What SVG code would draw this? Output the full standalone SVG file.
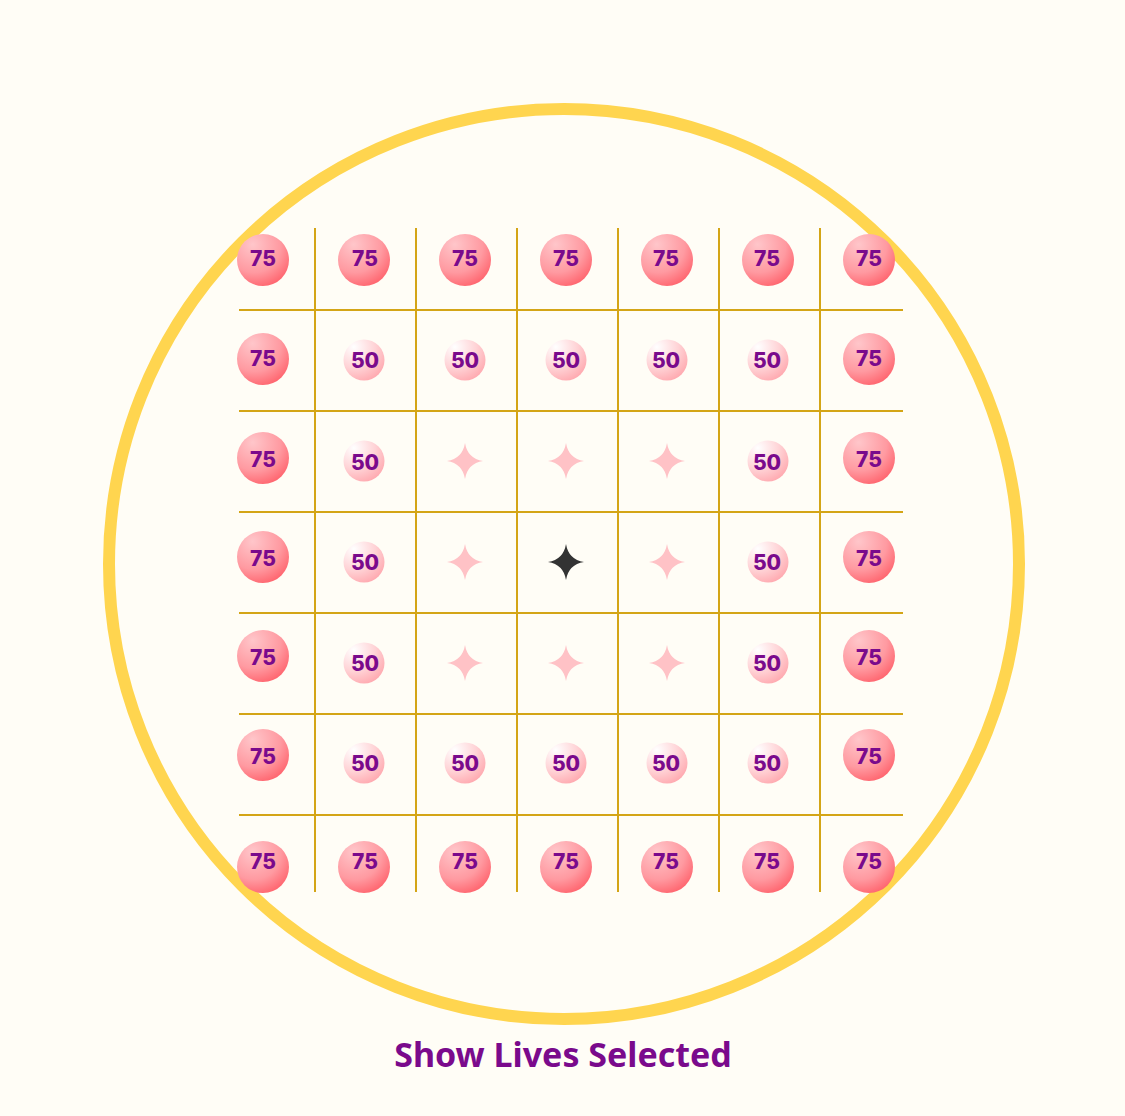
<svg xmlns="http://www.w3.org/2000/svg" width="1125" height="1116" viewBox="0 0 1125 1116">
<defs>
<radialGradient id="g75" cx="0.35" cy="0.25" r="0.85" fx="0.3" fy="0.2">
<stop offset="0" stop-color="#ffc6ca"/>
<stop offset="0.6" stop-color="#ff9aa1"/>
<stop offset="1" stop-color="#ff5c66"/>
</radialGradient>
<radialGradient id="g50" cx="0.3" cy="0.22" r="0.9" fx="0.25" fy="0.18">
<stop offset="0" stop-color="#ffffff"/>
<stop offset="0.55" stop-color="#ffd3d6"/>
<stop offset="1" stop-color="#ffa3aa"/>
</radialGradient>
<path id="star" d="M0,-18 Q2.5,-2.5 18,0 Q2.5,2.5 0,18 Q-2.5,2.5 -18,0 Q-2.5,-2.5 0,-18 Z"/>
</defs>
<style>
.bg{fill:#fffdf6}
.ring{fill:none;stroke:#ffd54f;stroke-width:12}
.grid line{stroke:#d4a516;stroke-width:2}
.b75{fill:url(#g75)}
.b50{fill:url(#g50)}
.t{font-family:Inter,"Noto Sans",sans-serif;font-weight:800;fill:#7a0a8c;text-anchor:middle;dominant-baseline:central}
.t75{font-size:21px}
.t50{font-size:21px}
.sp{fill:#ffc2c6}
.sc{fill:#333333}
.title{font-family:"Noto Sans",Inter,sans-serif;font-weight:700;font-size:34px;fill:#7a0a8c;text-anchor:middle}
</style>
<rect class="bg" width="1125" height="1116"/>
<circle class="ring" cx="564" cy="564" r="455"/>
<g id="grid" class="grid">
<line x1="315" y1="228" x2="315" y2="892"/>
<line x1="416" y1="228" x2="416" y2="892"/>
<line x1="517" y1="228" x2="517" y2="892"/>
<line x1="618" y1="228" x2="618" y2="892"/>
<line x1="719" y1="228" x2="719" y2="892"/>
<line x1="820" y1="228" x2="820" y2="892"/>
<line x1="239" y1="310" x2="903" y2="310"/>
<line x1="239" y1="411" x2="903" y2="411"/>
<line x1="239" y1="512" x2="903" y2="512"/>
<line x1="239" y1="613" x2="903" y2="613"/>
<line x1="239" y1="714" x2="903" y2="714"/>
<line x1="239" y1="815" x2="903" y2="815"/>
</g>
<g id="row0">
<g id="r0c0"><circle class="b75" cx="263" cy="260" r="26"/><text class="t t75" x="263" y="258">75</text></g>
<g id="r0c1"><circle class="b75" cx="364" cy="260" r="26"/><text class="t t75" x="365" y="258">75</text></g>
<g id="r0c2"><circle class="b75" cx="465" cy="260" r="26"/><text class="t t75" x="465" y="258">75</text></g>
<g id="r0c3"><circle class="b75" cx="566" cy="260" r="26"/><text class="t t75" x="566" y="258">75</text></g>
<g id="r0c4"><circle class="b75" cx="667" cy="260" r="26"/><text class="t t75" x="666" y="258">75</text></g>
<g id="r0c5"><circle class="b75" cx="768" cy="260" r="26"/><text class="t t75" x="767" y="258">75</text></g>
<g id="r0c6"><circle class="b75" cx="869" cy="260" r="26"/><text class="t t75" x="869" y="258">75</text></g>
</g>
<g id="row1">
<g id="r1c0"><circle class="b75" cx="263" cy="359" r="26"/><text class="t t75" x="263" y="358">75</text></g>
<g id="r1c1"><circle class="b50" cx="364" cy="360" r="20.5"/><text class="t t50" x="365" y="360">50</text></g>
<g id="r1c2"><circle class="b50" cx="465" cy="360" r="20.5"/><text class="t t50" x="465" y="360">50</text></g>
<g id="r1c3"><circle class="b50" cx="566" cy="360" r="20.5"/><text class="t t50" x="566" y="360">50</text></g>
<g id="r1c4"><circle class="b50" cx="667" cy="360" r="20.5"/><text class="t t50" x="666" y="360">50</text></g>
<g id="r1c5"><circle class="b50" cx="768" cy="360" r="20.5"/><text class="t t50" x="767" y="360">50</text></g>
<g id="r1c6"><circle class="b75" cx="869" cy="359" r="26"/><text class="t t75" x="869" y="358">75</text></g>
</g>
<g id="row2">
<g id="r2c0"><circle class="b75" cx="263" cy="458" r="26"/><text class="t t75" x="263" y="459">75</text></g>
<g id="r2c1"><circle class="b50" cx="364" cy="461" r="20.5"/><text class="t t50" x="365" y="462">50</text></g>
<use id="r2c2" class="sp" href="#star" x="465" y="461"/>
<use id="r2c3" class="sp" href="#star" x="566" y="461"/>
<use id="r2c4" class="sp" href="#star" x="667" y="461"/>
<g id="r2c5"><circle class="b50" cx="768" cy="461" r="20.5"/><text class="t t50" x="767" y="462">50</text></g>
<g id="r2c6"><circle class="b75" cx="869" cy="458" r="26"/><text class="t t75" x="869" y="459">75</text></g>
</g>
<g id="row3">
<g id="r3c0"><circle class="b75" cx="263" cy="557" r="26"/><text class="t t75" x="263" y="558">75</text></g>
<g id="r3c1"><circle class="b50" cx="364" cy="562" r="20.5"/><text class="t t50" x="365" y="562">50</text></g>
<use id="r3c2" class="sp" href="#star" x="465" y="562"/>
<use id="r3c3" class="sc" href="#star" x="566" y="562"/>
<use id="r3c4" class="sp" href="#star" x="667" y="562"/>
<g id="r3c5"><circle class="b50" cx="768" cy="562" r="20.5"/><text class="t t50" x="767" y="562">50</text></g>
<g id="r3c6"><circle class="b75" cx="869" cy="557" r="26"/><text class="t t75" x="869" y="558">75</text></g>
</g>
<g id="row4">
<g id="r4c0"><circle class="b75" cx="263" cy="656" r="26"/><text class="t t75" x="263" y="657">75</text></g>
<g id="r4c1"><circle class="b50" cx="364" cy="663" r="20.5"/><text class="t t50" x="365" y="663">50</text></g>
<use id="r4c2" class="sp" href="#star" x="465" y="663"/>
<use id="r4c3" class="sp" href="#star" x="566" y="663"/>
<use id="r4c4" class="sp" href="#star" x="667" y="663"/>
<g id="r4c5"><circle class="b50" cx="768" cy="663" r="20.5"/><text class="t t50" x="767" y="663">50</text></g>
<g id="r4c6"><circle class="b75" cx="869" cy="656" r="26"/><text class="t t75" x="869" y="657">75</text></g>
</g>
<g id="row5">
<g id="r5c0"><circle class="b75" cx="263" cy="755" r="26"/><text class="t t75" x="263" y="756">75</text></g>
<g id="r5c1"><circle class="b50" cx="364" cy="763" r="20.5"/><text class="t t50" x="365" y="763">50</text></g>
<g id="r5c2"><circle class="b50" cx="465" cy="763" r="20.5"/><text class="t t50" x="465" y="763">50</text></g>
<g id="r5c3"><circle class="b50" cx="566" cy="763" r="20.5"/><text class="t t50" x="566" y="763">50</text></g>
<g id="r5c4"><circle class="b50" cx="667" cy="763" r="20.5"/><text class="t t50" x="666" y="763">50</text></g>
<g id="r5c5"><circle class="b50" cx="768" cy="763" r="20.5"/><text class="t t50" x="767" y="763">50</text></g>
<g id="r5c6"><circle class="b75" cx="869" cy="755" r="26"/><text class="t t75" x="869" y="756">75</text></g>
</g>
<g id="row6">
<g id="r6c0"><circle class="b75" cx="263" cy="867" r="26"/><text class="t t75" x="263" y="861">75</text></g>
<g id="r6c1"><circle class="b75" cx="364" cy="867" r="26"/><text class="t t75" x="365" y="861">75</text></g>
<g id="r6c2"><circle class="b75" cx="465" cy="867" r="26"/><text class="t t75" x="465" y="861">75</text></g>
<g id="r6c3"><circle class="b75" cx="566" cy="867" r="26"/><text class="t t75" x="566" y="861">75</text></g>
<g id="r6c4"><circle class="b75" cx="667" cy="867" r="26"/><text class="t t75" x="666" y="861">75</text></g>
<g id="r6c5"><circle class="b75" cx="768" cy="867" r="26"/><text class="t t75" x="767" y="861">75</text></g>
<g id="r6c6"><circle class="b75" cx="869" cy="867" r="26"/><text class="t t75" x="869" y="861">75</text></g>
</g>
<text id="title" class="title" x="563" y="1067">Show Lives Selected</text>
</svg>
